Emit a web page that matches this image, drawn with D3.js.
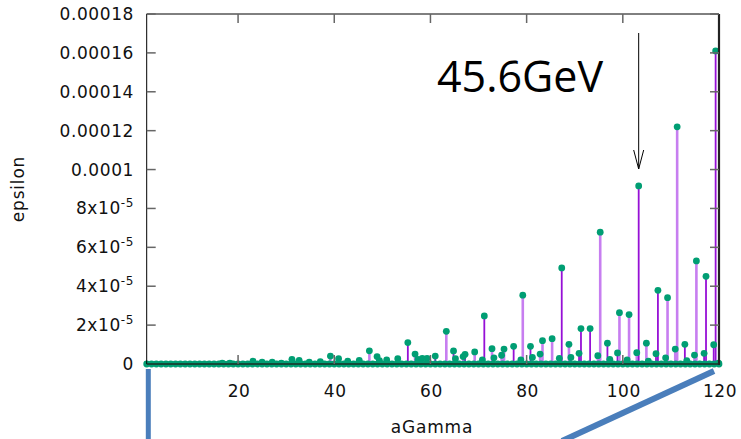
<!DOCTYPE html>
<html>
<head>
<meta charset="utf-8">
<script src="https://cdn.jsdelivr.net/npm/d3@7"></script>
<style>
	body { margin: 0; background: #fff; }
	svg { display: block; }
	.tick-label, .axis-title { font-family: "DejaVu Sans", Verdana, sans-serif; font-size: 17px; fill: #111; }
	.note { font-family: "Open Sans", sans-serif; font-size: 43px; fill: #000; }
</style>
</head>
<body>
<svg id="chart" width="741" height="439"></svg>
<script>
/*
** Resonance strengths epsilon vs aGamma (impulses with points).
*/

// resonance positions (aGamma) and their strengths (epsilon)
var aGamma = [16.7, 18.3, 23.1, 25.0, 27.1, 29.0, 31.2, 32.7, 34.8, 37.1,
	39.2, 40.9, 42.8, 45.2, 47.3, 48.9, 49.4, 50.9, 53.2, 55.3,
	56.8, 57.4, 58.3, 59.3, 61.0, 63.3, 64.8, 65.2, 66.8, 67.2,
	69.2, 70.8, 71.2, 72.8, 73.2, 74.8, 75.3, 77.3, 78.8, 79.2,
	80.8, 81.2, 82.8, 83.3, 85.3, 86.8, 87.3, 88.8, 89.2, 90.9,
	91.3, 93.2, 94.8, 95.3, 96.8, 97.3, 98.9, 99.3, 100.9, 101.3,
	102.9, 103.3, 104.9, 105.3, 106.9, 107.3, 108.9, 109.3, 110.9, 111.3,
	112.9, 113.3, 114.9, 115.3, 116.9, 117.3, 118.9, 119.3, 119.9];

var epsilon = [5e-7, 5e-7, 1.5e-6, 1.0e-6, 1.0e-6, 5e-7, 2.4e-6, 1.9e-6, 1.0e-6, 1.2e-6,
	4.1e-6, 2.7e-6, 1.5e-6, 1.9e-6, 6.8e-6, 3.8e-6, 1.7e-6, 2.1e-6, 2.7e-6, 1.10e-5,
	5.1e-6, 2.4e-6, 2.9e-6, 2.9e-6, 4.1e-6, 1.68e-5, 6.7e-6, 2.7e-6, 3.8e-6, 5.0e-6,
	6.2e-6, 2.1e-6, 2.47e-5, 7.9e-6, 3.2e-6, 4.5e-6, 7.7e-6, 9.1e-6, 2.1e-6, 3.54e-5,
	9.1e-6, 3.4e-6, 5.1e-6, 1.20e-5, 1.30e-5, 2.9e-6, 4.94e-5, 1.01e-5, 3.4e-6, 5.5e-6,
	1.82e-5, 1.82e-5, 4.3e-6, 6.78e-5, 1.07e-5, 2.4e-6, 5.7e-6, 2.64e-5, 2.1e-6, 2.54e-5,
	5.8e-6, 9.16e-5, 1.07e-5, 1.5e-6, 5.3e-6, 3.79e-5, 3.2e-6, 3.41e-5, 7.7e-6, 1.22e-4,
	1.01e-5, 1.7e-6, 4.6e-6, 5.30e-5, 5.5e-6, 4.51e-5, 9.9e-6, 1.61e-4, 4e-7];

// impulse shade per resonance: d = dark violet, l = light violet
var stemShade = ["l", "l", "l", "d", "l", "d", "l", "d", "l", "d",
	"l", "l", "d", "l", "l", "d", "l", "d", "l", "d",
	"l", "d", "d", "l", "d", "l", "d", "l", "l", "d",
	"l", "d", "d", "l", "d", "l", "l", "d", "l", "l",
	"d", "l", "l", "l", "l", "d", "d", "l", "d", "d",
	"d", "d", "l", "l", "d", "l", "d", "l", "d", "l",
	"l", "d", "l", "d", "d", "d", "d", "l", "l", "l",
	"d", "l", "l", "l", "d", "d", "d", "d", "d"];

// integer tunes where epsilon is (practically) zero
var floorGamma = [1, 2, 3, 4, 5, 6, 7, 8, 9, 10, 11, 12, 13, 14, 15, 16, 17, 18, 19, 20,
	21, 22, 23, 24, 25, 26, 27, 28, 29, 30, 31, 32, 33, 34, 35, 36, 37, 38, 39, 40,
	41, 42, 43, 44, 45, 46, 47, 48, 49, 50, 51, 52, 53, 54, 55, 56, 57, 58, 59, 60,
	61, 62, 63, 64, 65, 66, 67, 68, 69, 70, 71, 72, 73, 74, 75, 76, 77, 78, 79, 80,
	81, 82, 83, 84, 85, 86, 87, 88, 89, 90, 91, 92, 93, 94, 95, 96, 97, 98, 99, 100,
	101, 102, 103, 104, 105, 106, 107, 108, 109, 110, 111, 112, 113, 114, 115, 116, 117, 118, 119, 120];

var xTicks = [20, 40, 60, 80, 100, 120];
var yTicks = [0, 2e-5, 4e-5, 6e-5, 8e-5, 1e-4, 1.2e-4, 1.4e-4, 1.6e-4, 1.8e-4];
var yTickLabels = ["0", "2x10^-5", "4x10^-5", "6x10^-5", "8x10^-5",
	"0.0001", "0.00012", "0.00014", "0.00016", "0.00018"];

var energyLabel = "45.6GeV";
var markedGamma = 103.3;

var svg = d3.select("#chart");

var plotLeft = 146.7, plotRight = 719, plotTop = 14, plotBottom = 364;

var x = d3.scaleLinear().domain([1, 120]).range([plotLeft, plotRight]);
var y = d3.scaleLinear().domain([0, 1.8e-4]).range([plotBottom, plotTop]);

var points = aGamma.map(function(g, i) {
	return {g: g, e: epsilon[i], shade: stemShade[i]};
});
var floorPoints = floorGamma.map(function(g) {
	return {g: g, e: 0};
});

// impulses
svg.append("g")
	.selectAll("line.stem")
	.data(points)
	.enter()
	.append("line")
		.attr("class", "stem")
		.attr("x1", function(d) {return x(d.g);})
		.attr("x2", function(d) {return x(d.g);})
		.attr("y1", y(0))
		.attr("y2", function(d) {return y(d.e);})
		.attr("stroke", function(d) {return d.shade == "d" ? "#9610d6" : "#c77ef0";})
		.attr("stroke-width", function(d) {return d.shade == "d" ? 1.8 : 2.6;});

// points
svg.append("g")
	.selectAll("circle.dot")
	.data(floorPoints.concat(points))
	.enter()
	.append("circle")
		.attr("class", "dot")
		.attr("cx", function(d) {return x(d.g);})
		.attr("cy", function(d) {return y(d.e);})
		.attr("r", 3.4)
		.attr("fill", "#009e73");

// frame
svg.append("path")
	.attr("d", "M" + plotLeft + "," + plotBottom + "V" + plotTop + "H" + plotRight)
	.attr("fill", "none")
	.attr("stroke", "#000")
	.attr("stroke-width", 1);
svg.append("line")
	.attr("x1", plotRight).attr("x2", plotRight)
	.attr("y1", plotTop).attr("y2", plotBottom + 1)
	.attr("stroke", "#222")
	.attr("stroke-width", 2.2);
svg.append("line")
	.attr("x1", plotLeft).attr("x2", plotRight)
	.attr("y1", plotBottom).attr("y2", plotBottom)
	.attr("stroke", "#1d2e26")
	.attr("stroke-width", 1.6);

// inward ticks on all four sides
var tickG = svg.append("g").attr("stroke", "#666").attr("stroke-width", 1.5);
yTicks.slice(1).forEach(function(v) {
	tickG.append("line").attr("x1", plotLeft).attr("x2", plotLeft + 9).attr("y1", y(v)).attr("y2", y(v));
	tickG.append("line").attr("x1", plotRight - 9).attr("x2", plotRight).attr("y1", y(v)).attr("y2", y(v));
});
xTicks.slice(0, -1).forEach(function(v) {
	tickG.append("line").attr("x1", x(v)).attr("x2", x(v)).attr("y1", plotBottom).attr("y2", plotBottom - 9);
	tickG.append("line").attr("x1", x(v)).attr("x2", x(v)).attr("y1", plotTop).attr("y2", plotTop + 9);
});

// y tick labels, with superscript exponent
var yLab = svg.append("g")
	.selectAll("text")
	.data(yTicks)
	.enter()
	.append("text")
		.attr("class", "tick-label")
		.attr("x", 134)
		.attr("y", function(d) {return y(d) + 6;})
		.attr("text-anchor", "end")
		.attr("letter-spacing", 0.6);
yLab.each(function(d, i) {
	var parts = yTickLabels[i].split("^");
	var t = d3.select(this);
	t.append("tspan").text(parts[0]);
	if (parts.length > 1) {
		t.append("tspan")
			.attr("dy", -7)
			.attr("font-size", "12px")
			.text(parts[1]);
	}
});

// x tick labels
svg.append("g")
	.selectAll("text")
	.data(xTicks)
	.enter()
	.append("text")
		.attr("class", "tick-label")
		.attr("x", function(d) {return x(d) + 1;})
		.attr("y", 397)
		.attr("text-anchor", "middle")
		.attr("letter-spacing", 0.6)
		.text(function(d) {return d;});

// axis titles
svg.append("text")
	.attr("class", "axis-title")
	.attr("x", 432)
	.attr("y", 433)
	.attr("text-anchor", "middle")
	.attr("letter-spacing", 0.8)
	.text("aGamma");
svg.append("text")
	.attr("class", "axis-title")
	.attr("transform", "translate(24,189) rotate(-90)")
	.attr("text-anchor", "middle")
	.attr("letter-spacing", 0.8)
	.text("epsilon");

// energy note with arrow pointing at the resonance
svg.append("text")
	.attr("class", "note")
	.attr("x", 437)
	.attr("y", 92)
	.text(energyLabel);
var ax = x(markedGamma);
svg.append("line")
	.attr("x1", ax).attr("x2", ax)
	.attr("y1", 33).attr("y2", 169)
	.attr("stroke", "#000").attr("stroke-width", 1);
svg.append("path")
	.attr("d", "M" + (ax - 5) + ",150L" + ax + ",169L" + (ax + 5) + ",150")
	.attr("fill", "none")
	.attr("stroke", "#000")
	.attr("stroke-width", 1);

// blue strokes below the plot
svg.append("line")
	.attr("x1", 148.3).attr("x2", 148.3)
	.attr("y1", 369).attr("y2", 439)
	.attr("stroke", "#4a7ebb").attr("stroke-width", 5);
svg.append("line")
	.attr("x1", 714).attr("x2", 562)
	.attr("y1", 371).attr("y2", 441)
	.attr("stroke", "#4a7ebb").attr("stroke-width", 6);
</script>
</body>
</html>
